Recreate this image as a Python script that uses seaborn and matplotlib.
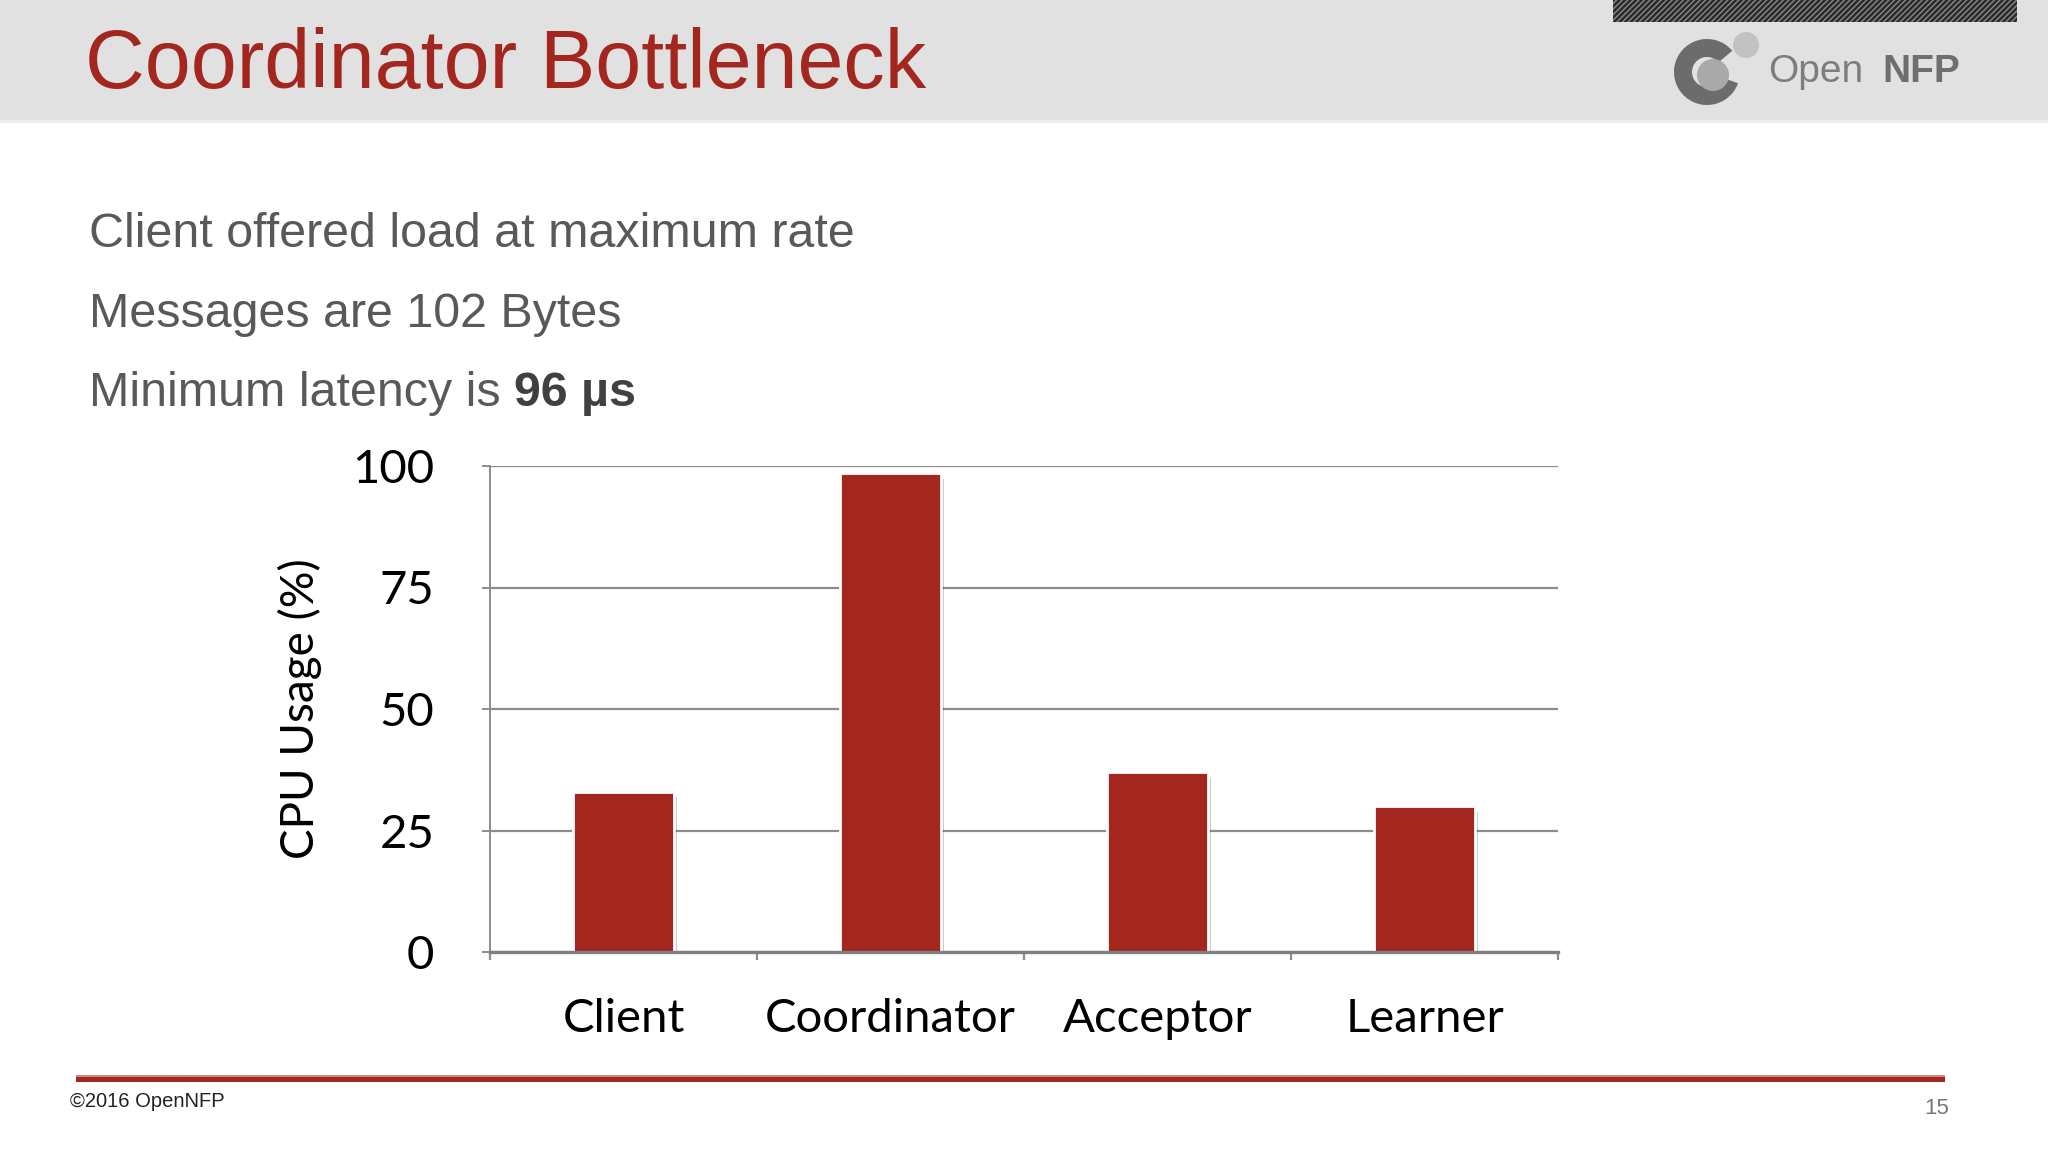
import matplotlib
matplotlib.use("Agg")
import matplotlib.pyplot as plt
import matplotlib.patheffects as pe
from matplotlib.patches import Rectangle, Circle, Wedge
import seaborn as sns

# data
roles = ['Client', 'Coordinator', 'Acceptor', 'Learner']
cpu_usage = [33.0, 98.5, 37.0, 30.0]
y_ticks = [0, 25, 50, 75, 100]

title = 'Coordinator Bottleneck'
bullets = ['Client offered load at maximum rate', 'Messages are 102 Bytes']
latency_text = 'Minimum latency is '
latency_value = '96 µs'

W, H = 2048, 1152
RED = '#a3271f'
GRID = '#8c8c8c'

sns.set_style('white')
plt.rcParams['font.family'] = ['Liberation Sans', 'DejaVu Sans']

fig = plt.figure(figsize=(W / 100, H / 100), dpi=100)

# slide background, drawn in pixel coords (y down)
bg = fig.add_axes([0, 0, 1, 1], zorder=0)
bg.set_xlim(0, W)
bg.set_ylim(H, 0)
bg.axis('off')

bg.add_patch(Rectangle((0, 0), W, 120, color='#e1e1e1', lw=0))
bg.add_patch(Rectangle((0, 120), W, 3, color='#ededed', lw=0))

# logo
bg.add_patch(Rectangle((1613, 0), 404, 22, facecolor='#2a2a2a', edgecolor='#8a8a8a',
                       hatch='//////', lw=0))
bg.add_patch(Wedge((1707, 72), 33, 20, 320, width=18, color='#6c6c6c', lw=0))
bg.add_patch(Circle((1713, 75), 16, color='#a9a9a9', lw=0))
bg.add_patch(Circle((1746, 45), 13, color='#c2c2c2', lw=0))
bg.text(1768, 82, 'Open', fontsize=28, color='#7d7d7d', va='baseline', ha='left')
bg.text(1960, 82, 'NFP', fontsize=28, color='#6f6f6f', fontweight='bold', va='baseline', ha='right')

# title + bullets
bg.text(85, 88, title, fontsize=59.5, color=RED, va='baseline', ha='left')
for i, line in enumerate(bullets):
    bg.text(89, 247 + i * 80, line, fontsize=34.8, color='#595959', va='baseline', ha='left')
t_lat = bg.text(89, 406, latency_text, fontsize=34.8, color='#595959', va='baseline', ha='left')
fig.canvas.draw()
bb = t_lat.get_window_extent()
bg.text(bb.x1, 406, latency_value, fontsize=34.8, color='#404040', fontweight='bold',
        va='baseline', ha='left')

# footer
bg.add_patch(Rectangle((76, 1076), 1869, 6, color=RED, lw=0))
bg.add_patch(Rectangle((76, 1075), 1869, 1.5, color='#c98a85', lw=0))
bg.text(70, 1107, '©2016 OpenNFP', fontsize=14.5, color='#222222', va='baseline', ha='left')
bg.text(1949, 1114, '15', fontsize=16, color='#777777', va='baseline', ha='right')

# chart
ax = fig.add_axes([490 / W, 1 - 952 / H, (1558 - 490) / W, (952 - 466) / H], zorder=1)
ax.patch.set_alpha(0)
sns.barplot(x=roles, y=cpu_usage, color=RED, saturation=1, width=0.38,
            edgecolor='white', linewidth=2, ax=ax)
for bar in ax.patches:
    bar.set_path_effects([pe.SimplePatchShadow(offset=(2, -4), shadow_rgbFace='k', alpha=0.2),
                          pe.Normal()])

ax.set_ylim(0, 100)
ax.set_xlim(-0.5, 3.5)
ax.set_yticks(y_ticks)
ax.yaxis.grid(True, color=GRID, lw=1.6)
ax.set_axisbelow(True)
for s in ['top', 'right']:
    ax.spines[s].set_visible(False)
ax.spines['left'].set_color(GRID)
ax.spines['left'].set_linewidth(1.4)
ax.spines['bottom'].set_color('#7f7f7f')
ax.spines['bottom'].set_linewidth(2.4)

chart_font = ['Lato', 'DejaVu Sans']
ax.tick_params(axis='y', left=True, length=6, width=1.4, color=GRID, pad=34, labelsize=34)
ax.tick_params(axis='x', which='major', bottom=True, length=0, pad=33, labelsize=34)
ax.set_xticks([-0.5, 0.5, 1.5, 2.5, 3.5], minor=True)
ax.tick_params(axis='x', which='minor', bottom=True, length=6, width=1.6, color=GRID)
for lab in ax.get_xticklabels() + ax.get_yticklabels():
    lab.set_family(chart_font)
    lab.set_color('black')

ax.set_xlabel('')
ax.set_ylabel('CPU Usage (%)', fontsize=33, family=chart_font, color='black', va='center')
ax.yaxis.set_label_coords(-0.178, 0.5)

fig.savefig('out.png', dpi=100)
